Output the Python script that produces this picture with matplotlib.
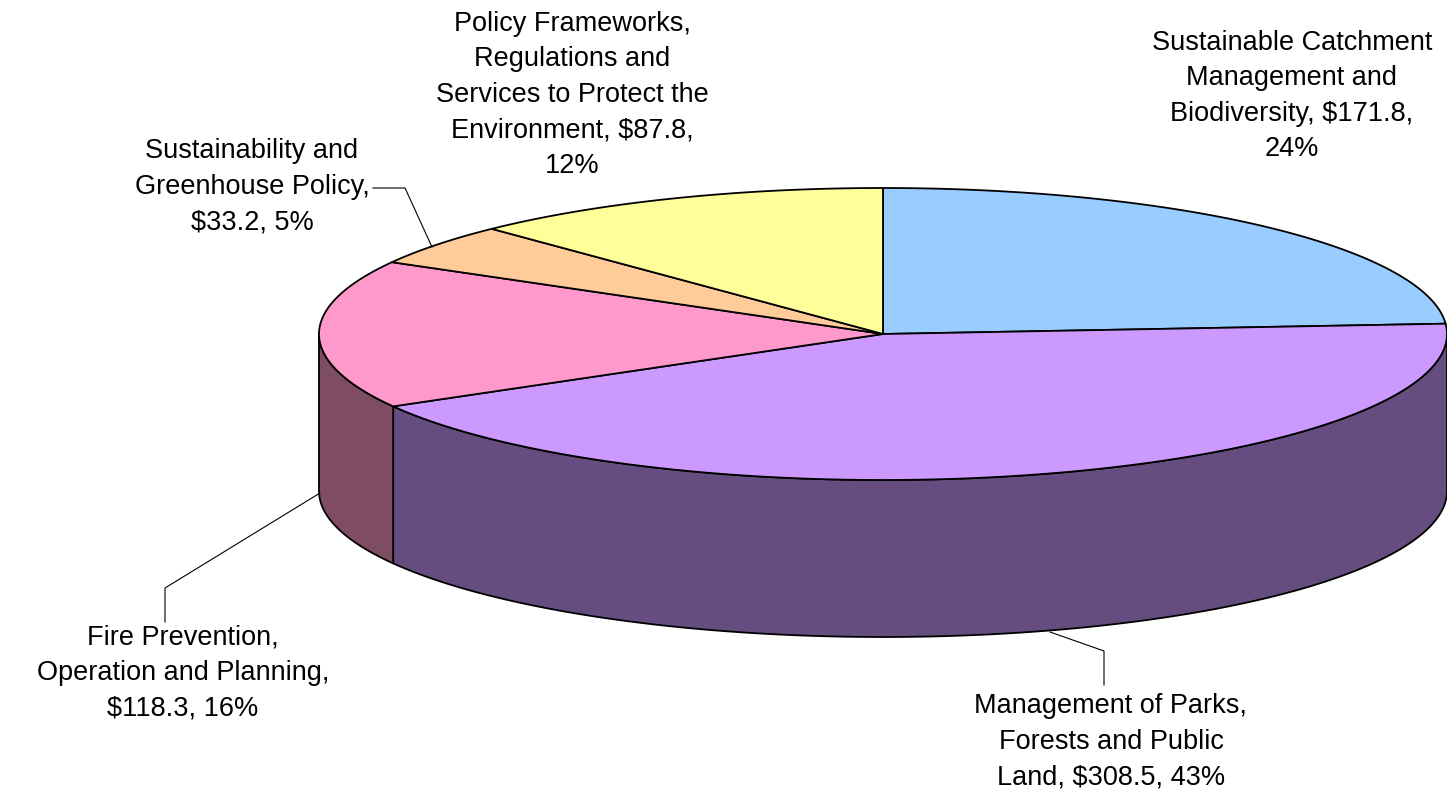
import matplotlib
matplotlib.use('Agg')
import numpy as np
import matplotlib.pyplot as plt
from matplotlib.patches import Polygon

# data
labels = ["Sustainable Catchment\nManagement and\nBiodiversity, $171.8,\n24%",
          "Management of Parks,\nForests and Public\nLand, $308.5, 43%",
          "Fire Prevention,\nOperation and Planning,\n$118.3, 16%",
          "Sustainability and\nGreenhouse Policy,\n$33.2, 5%",
          "Policy Frameworks,\nRegulations and\nServices to Protect the\nEnvironment, $87.8,\n12%"]
values = [171.8, 308.5, 118.3, 33.2, 87.8]
top_colors = ["#99CCFF", "#CC99FF", "#FF99CC", "#FFCC99", "#FFFF99"]
side_colors = ["#4D6680", "#654E7F", "#7F4D63", "#806633", "#80804D"]

# geometry of the 3d pie (pixels)
CX, CY = 883, 334
RX, RY = 564, 146
DEPTH = 157

# label layout: text centre, leader line points (or None)
label_pos = [(1292, 96), (1111, 742), (183, 673), (252, 187), (572, 95)]
leaders = [None,
           [(1104, 685), (1104, 651), (1050, 632)],
           [(165, 622), (165, 588), (320, 493)],
           [(373, 188), (405, 188), (432, 247)],
           None]


def ell(t, dy=0):
    t = np.radians(t)
    return np.column_stack([CX + RX * np.cos(t), CY - RY * np.sin(t) + dy])


fig = plt.figure(figsize=(14.47, 7.95), dpi=100)
ax = fig.add_axes([0, 0, 1, 1])
ax.set_xlim(0, 1447)
ax.set_ylim(795, 0)
ax.axis('off')

total = sum(values)
bounds = 90 - 360 * np.concatenate([[0], np.cumsum(values)]) / total

# sides (front half only: angles between -180 and 0)
for i in range(len(values)):
    t0, t1 = bounds[i], bounds[i + 1]
    a, b = min(t0, 0), max(t1, -180)
    if a <= b:
        continue
    ts = np.linspace(a, b, 200)
    pts = np.vstack([ell(ts), ell(ts[::-1], DEPTH)])
    ax.add_patch(Polygon(pts, closed=True, facecolor=side_colors[i],
                         edgecolor='black', linewidth=1.3, joinstyle='round'))

# tops
for i in range(len(values)):
    t0, t1 = bounds[i], bounds[i + 1]
    ts = np.linspace(t0, t1, 300)
    pts = np.vstack([[CX, CY], ell(ts)])
    ax.add_patch(Polygon(pts, closed=True, facecolor=top_colors[i],
                         edgecolor='black', linewidth=1.3, joinstyle='round'))

# labels
for i, lab in enumerate(labels):
    x, y = label_pos[i]
    ax.text(x, y, lab, ha='center', va='center', fontsize=19.5,
            family=['Liberation Sans', 'DejaVu Sans'], linespacing=1.48,
            color='black')
    if leaders[i] is not None:
        lx, ly = zip(*leaders[i])
        ax.plot(lx, ly, color='black', linewidth=0.8)

fig.savefig('out.png', dpi=100)
